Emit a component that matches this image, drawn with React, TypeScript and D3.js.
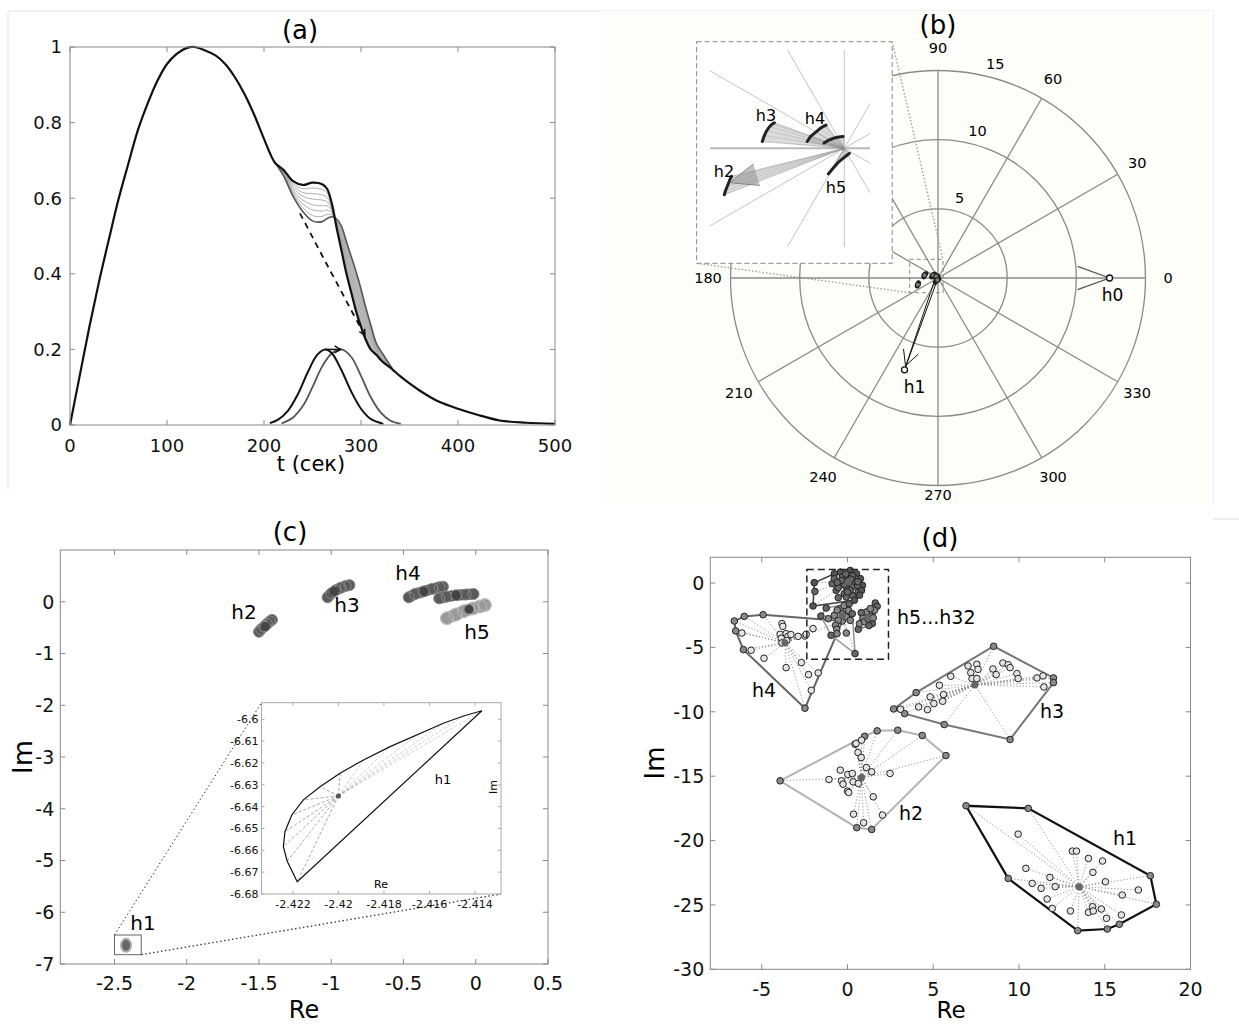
import React from 'react'
import * as d3 from 'd3'

const FONT = "'DejaVu Sans', Verdana, sans-serif"

// ---------- (a) pulse, its perturbed copies and the moving bump
const pulseT = [0, 10, 20, 30, 40, 50, 60, 70, 80, 90, 100, 110, 120, 128, 140, 150, 160, 170, 180, 190, 200]
const pulseV = [0, 0.13, 0.26, 0.38, 0.49, 0.597, 0.69, 0.78, 0.85, 0.91, 0.955, 0.982, 0.997, 1, 0.99, 0.978, 0.955, 0.92, 0.875, 0.82, 0.757]
const famT = [211, 220, 230, 240, 250, 260, 265, 270, 275, 280, 285, 290, 295, 300, 305, 310, 316, 322, 332]
const famTop = [0.695, 0.675, 0.645, 0.635, 0.641, 0.637, 0.625, 0.585, 0.52, 0.46, 0.4, 0.35, 0.3, 0.26, 0.225, 0.2, 0.185, 0.168, 0.148]
const famMid = [
  [0.695, 0.673, 0.639, 0.625, 0.627, 0.623, 0.614, 0.58, 0.524, 0.469, 0.412, 0.364, 0.315, 0.274, 0.237, 0.209, 0.189, 0.171, 0.148],
  [0.695, 0.671, 0.634, 0.615, 0.612, 0.609, 0.602, 0.575, 0.527, 0.479, 0.424, 0.377, 0.33, 0.289, 0.249, 0.219, 0.194, 0.174, 0.149],
  [0.695, 0.669, 0.628, 0.605, 0.598, 0.595, 0.591, 0.57, 0.531, 0.488, 0.436, 0.391, 0.345, 0.303, 0.261, 0.228, 0.198, 0.177, 0.149],
  [0.695, 0.666, 0.622, 0.595, 0.583, 0.58, 0.58, 0.566, 0.534, 0.497, 0.449, 0.404, 0.36, 0.317, 0.274, 0.237, 0.202, 0.181, 0.149],
  [0.695, 0.664, 0.616, 0.585, 0.569, 0.566, 0.569, 0.561, 0.538, 0.506, 0.461, 0.418, 0.375, 0.331, 0.286, 0.246, 0.206, 0.184, 0.149],
  [0.695, 0.662, 0.611, 0.575, 0.554, 0.552, 0.557, 0.556, 0.541, 0.516, 0.473, 0.431, 0.39, 0.346, 0.298, 0.256, 0.211, 0.187, 0.15],
]
const famBottom = [0.695, 0.66, 0.605, 0.565, 0.54, 0.538, 0.546, 0.551, 0.545, 0.525, 0.485, 0.445, 0.405, 0.36, 0.31, 0.265, 0.215, 0.19, 0.15]
const tailT = [340, 350, 360, 370, 380, 400, 420, 443, 470, 500]
const tailV = [0.13, 0.11, 0.092, 0.076, 0.062, 0.043, 0.027, 0.012, 0.006, 0.003]
const dashT = [237, 240, 250, 260, 270, 280, 290, 300, 304]
const dashV = [0.56, 0.546, 0.497, 0.448, 0.4, 0.352, 0.303, 0.256, 0.236]
const bumpT1 = [206, 215, 225, 235, 245, 255, 263, 270, 280, 290, 300, 310, 323]
const bumpV1 = [0.005, 0.015, 0.039, 0.082, 0.139, 0.186, 0.2, 0.19, 0.144, 0.088, 0.043, 0.016, 0.003]
const bumpT2 = [218, 230, 240, 250, 260, 270, 280, 290, 300, 310, 320, 330, 341]
const bumpV2 = [0.004, 0.02, 0.05, 0.1, 0.155, 0.19, 0.2, 0.18, 0.13, 0.074, 0.034, 0.012, 0.003]
const bumpShift = [263, 279]

// ---------- (b)/(c) eigenvalue trails (Re, Im)
const trailH2 = [[-1.5, -0.58], [-1.485, -0.53], [-1.465, -0.48], [-1.445, -0.43], [-1.425, -0.38], [-1.41, -0.35]]
const trailH3 = [[-1.025, 0.085], [-1.0, 0.16], [-0.97, 0.22], [-0.935, 0.27], [-0.9, 0.305], [-0.874, 0.32]]
const trailH4a = [[-0.464, 0.085], [-0.42, 0.15], [-0.36, 0.2], [-0.3, 0.25], [-0.25, 0.28], [-0.227, 0.29]]
const trailH4b = [[-0.253, 0.065], [-0.2, 0.1], [-0.135, 0.125], [-0.07, 0.14], [-0.015, 0.148]]
const trailH5 = [[-0.2, -0.32], [-0.14, -0.25], [-0.08, -0.18], [-0.02, -0.13], [0.03, -0.09], [0.064, -0.064]]
const trailCenters = [[-1.455, -0.48], [-0.98, 0.2], [-0.358, 0.2], [-0.135, 0.125], [-0.047, -0.147]]
const h0 = [12.4, 0]
const h1 = [-2.42, -6.64]

const ringRadii = [5, 10, 15]
const spokeAngles = [0, 30, 60, 90, 120, 150, 180, 210, 240, 270, 300, 330]
const angleLabels = [0, 30, 60, 90, 180, 210, 240, 270, 300, 330]

// ---------- (c) zoom of h1
const h1Zoom = [[-2.4137, -6.5961], [-2.41451, -6.5985], [-2.41539, -6.6018], [-2.41656, -6.6072], [-2.41773, -6.6125],
  [-2.4189, -6.6186], [-2.41993, -6.6247], [-2.42081, -6.6309], [-2.42154, -6.6369], [-2.42205, -6.6438],
  [-2.42235, -6.6515], [-2.42242, -6.6583], [-2.42225, -6.665], [-2.42181, -6.6744]]
const h1ZoomCenter = [-2.42, -6.6351]

// ---------- (d) spectra clouds
const dH1 = [[6.91, -17.3], [10.54, -17.5], [17.66, -22.73], [18.01, -24.95], [15.85, -26.5], [15.15, -26.87], [13.42, -27.0], [11.94, -25.27], [9.37, -22.94],
  [9.95, -19.5], [13.11, -20.82], [13.35, -20.82], [14.05, -21.39], [14.87, -21.59], [10.4, -22.16], [14.31, -22.47], [11.8, -22.86], [10.77, -23.33],
  [12.11, -23.58], [11.29, -23.71], [15.04, -23.2], [16.96, -23.84], [16.02, -24.23], [11.64, -24.54], [14.29, -25.14], [14.8, -25.32], [13.0, -25.47],
  [14.05, -25.58], [14.33, -25.47], [15.97, -25.78], [15.1, -26.04]]
const dH2 = [[-3.93, -15.36], [0.44, -12.52], [1.73, -11.48], [2.93, -11.43], [4.36, -11.84], [5.74, -13.4], [2.04, -18.02], [1.41, -19.14], [0.54, -19.0],
  [0.5, -12.46], [1.0, -11.9], [0.82, -12.2], [0.61, -13.16], [0.8, -13.55], [1.1, -14.33], [1.41, -14.66], [2.48, -14.79], [-0.42, -14.53],
  [-1.08, -15.26], [-0.35, -15.36], [-0.26, -15.62], [0.02, -14.87], [0.28, -14.79], [0.33, -15.44], [0.63, -15.57], [0.0, -16.16], [0.07, -16.27],
  [1.5, -16.6], [0.35, -17.95], [0.94, -18.62]]
const dH3 = [[2.69, -9.78], [7.03, -6.44], [8.52, -4.91], [12.01, -7.37], [12.01, -7.73], [9.48, -12.15], [5.64, -10.99], [3.33, -10.14],
  [3.09, -9.8], [4.0, -8.51], [4.15, -9.62], [4.66, -9.83], [4.82, -8.84], [5.04, -9.36], [5.36, -7.94], [5.6, -8.66], [5.55, -9.18], [6.02, -7.24],
  [7.19, -6.96], [7.54, -6.31], [7.61, -6.7], [7.26, -7.42], [7.54, -7.42], [8.48, -6.67], [8.67, -7.11], [9.06, -6.21], [9.37, -6.34],
  [9.48, -6.57], [9.88, -7.03], [9.95, -7.42], [11.05, -7.37], [11.4, -7.21], [11.45, -8.07]]
const dH4 = [[-6.6, -2.95], [-6.02, -2.59], [-4.92, -2.46], [-0.3, -2.95], [-2.11, -8.33], [-2.48, -9.72], [-6.07, -5.17], [-6.52, -3.72],
  [-6.16, -3.88], [-5.62, -5.22], [-4.87, -5.84], [-3.82, -3.15], [-3.77, -3.36], [-3.93, -3.98], [-3.86, -4.29], [-3.58, -3.93], [-3.47, -4.14],
  [-3.3, -4.0], [-3.82, -4.65], [-3.54, -4.47], [-2.88, -4.14], [-2.48, -4.11], [-2.41, -3.98], [-2.69, -6.18], [-2.27, -7.11], [-1.71, -6.98],
  [-3.58, -6.57], [-2.01, -3.54]]
const dH5a = [[-1.94, 0.03], [-1.9, -0.65], [-2.01, -1.78], [-0.77, 0.72], [-0.42, 0.85], [0.16, 0.98], [0.52, 0.72], [0.75, 0.34], [0.87, -0.18],
  [0.63, -0.7], [0.28, -0.96], [-0.19, -0.83], [-0.66, -0.57], [-0.89, -0.05], [-0.77, 0.34], [-0.3, 0.47], [0.05, 0.21], [0.4, 0.08],
  [-0.07, -0.31], [-0.42, -0.05], [0.28, -0.31], [0.59, -0.18], [-0.54, -0.36], [0.12, 0.6], [-0.19, -0.13], [0.16, -0.57], [0.45, 0.34],
  [0.82, -0.57], [-0.07, -1.09], [-0.54, -1.14], [0.4, -1.34], [0.3, 0.55], [-0.1, 0.7], [0.6, 0.1], [-0.35, 0.2], [0.0, -0.7], [0.7, -0.95],
  [-0.6, 0.05], [0.2, 0.3]]
const dH5b = [[-1.24, -1.94], [-1.55, -2.56], [-1.12, -2.77], [-0.42, -1.99], [-0.3, -2.38], [0.05, -2.12], [0.28, -2.38], [-0.77, -2.51],
  [-0.07, -2.64], [-0.54, -2.9], [0.16, -2.9], [-0.2, -1.75], [0.1, -1.6], [-0.6, -2.1], [-0.7, -3.28], [-0.63, -3.59], [-0.96, -4.06],
  [-0.61, -3.93], [-0.07, -3.88], [0.44, -5.48]]
const dH5c = [[1.62, -1.55], [1.73, -1.81], [1.57, -2.12], [1.45, -3.15], [1.38, -2.59], [0.91, -2.69], [1.1, -2.25], [1.33, -1.99],
  [0.63, -3.59], [0.7, -3.15], [1.0, -3.0], [1.2, -2.8], [0.8, -2.3], [1.5, -2.7], [1.25, -3.3]]
const dCenters = { h1: [13.51, -23.58], h2: [0.82, -15.1], h3: [7.42, -7.91], h4: [-3.65, -4.63], h5a: [0.05, 0.1], h5b: [-0.3, -2.5], h5c: [1.2, -2.7] }
const dBox = [[-2.37, 1.06], [2.39, -5.92]]

const num = (v: number) => String(+v.toFixed(4))
const zip = (t: number[], v: number[]) => t.map((x, i) => [x, v[i]] as [number, number])

function Frame({ x, y, xt, yt, fs, stroke = '#888', tick = 5, gap = 7, xOff = 26, fmt = num }: any) {
  const [l, r] = x.range()
  const [b, t] = y.range()
  return (
    <g fontSize={fs} fill="#111">
      <rect x={l} y={t} width={r - l} height={b - t} fill="none" stroke={stroke} />
      {xt.map((v: number) => (
        <g key={'x' + v}>
          <line x1={x(v)} x2={x(v)} y1={b} y2={b - tick} stroke={stroke} />
          <line x1={x(v)} x2={x(v)} y1={t} y2={t + tick} stroke={stroke} />
          <text x={x(v)} y={b + xOff} textAnchor="middle">{fmt(v)}</text>
        </g>
      ))}
      {yt.map((v: number) => (
        <g key={'y' + v}>
          <line x1={l} x2={l + tick} y1={y(v)} y2={y(v)} stroke={stroke} />
          <line x1={r} x2={r - tick} y1={y(v)} y2={y(v)} stroke={stroke} />
          <text x={l - gap} y={y(v)} dy="0.36em" textAnchor="end">{fmt(v)}</text>
        </g>
      ))}
    </g>
  )
}

function head(x1: number, y1: number, x2: number, y2: number, len: number, deg: number) {
  const a = Math.atan2(y2 - y1, x2 - x1)
  const h = (deg * Math.PI) / 180
  const p1 = [x2 - len * Math.cos(a - h), y2 - len * Math.sin(a - h)]
  const p2 = [x2 - len * Math.cos(a + h), y2 - len * Math.sin(a + h)]
  return `M${p1[0]},${p1[1]}L${x2},${y2}L${p2[0]},${p2[1]}`
}

function PanelA() {
  const x = d3.scaleLinear().domain([0, 500]).range([70, 555])
  const y = d3.scaleLinear().domain([0, 1]).range([425, 47])
  const line = d3.line<[number, number]>().x(d => x(d[0])).y(d => y(d[1])).curve(d3.curveCatmullRom)
  const main = [...zip(pulseT, pulseV), ...zip(famT, famTop), ...zip(tailT, tailV)]
  const bandIdx = famT.map((_, i) => i).filter(i => famT[i] >= 270)
  const band = d3.area<number>().x(i => x(famT[i])).y0(i => y(famTop[i])).y1(i => y(famBottom[i])).curve(d3.curveCatmullRom)
  const dEnd = [x(dashT[dashT.length - 1]), y(dashV[dashV.length - 1])]
  const dPrev = [x(dashT[dashT.length - 2]), y(dashV[dashV.length - 2])]
  return (
    <g>
      <text x={300} y={39} textAnchor="middle" fontSize={26}>(a)</text>
      <path d={band(bandIdx) || ''} fill="#cfcfcf" />
      {famMid.map((m, k) => (
        <path key={k} d={line(zip(famT, m)) || ''} fill="none" stroke="#9a9a9a" strokeWidth={0.8} />
      ))}
      <path d={line(zip(famT, famBottom)) || ''} fill="none" stroke="#555" strokeWidth={1.6} />
      <path d={line(zip(dashT, dashV)) || ''} fill="none" stroke="#111" strokeWidth={1.8} strokeDasharray="6,5" />
      <path d={head(dPrev[0], dPrev[1], dEnd[0], dEnd[1], 7, 25)} fill="none" stroke="#111" strokeWidth={1.5} />
      <path d={line(main) || ''} fill="none" stroke="#111" strokeWidth={2.2} />
      <path d={line(zip(bumpT2, bumpV2)) || ''} fill="none" stroke="#555" strokeWidth={1.8} />
      <path d={line(zip(bumpT1, bumpV1)) || ''} fill="none" stroke="#111" strokeWidth={2} />
      <line x1={x(bumpShift[0])} x2={x(bumpShift[1])} y1={y(0.2)} y2={y(0.2)} stroke="#111" strokeWidth={1.5} />
      <path d={head(x(bumpShift[0]), y(0.2), x(bumpShift[1]), y(0.2), 7, 30)} fill="none" stroke="#111" strokeWidth={1.5} />
      <Frame x={x} y={y} xt={[0, 100, 200, 300, 400, 500]} yt={[0, 0.2, 0.4, 0.6, 0.8, 1]} fs={18} gap={8} xOff={27} />
      <text x={311} y={471} textAnchor="middle" fontSize={21}>t (сек)</text>
    </g>
  )
}

function PanelB() {
  const cx = 938, cy = 278
  const r = d3.scaleLinear().domain([0, 15]).range([0, 207.5])
  const rad = (d: number) => (d * Math.PI) / 180
  const pol = (rr: number, a: number) => [cx + rr * Math.cos(rad(a)), cy - rr * Math.sin(rad(a))]
  const cp = (c: number[]) => [cx + r(c[0]), cy - r(c[1])]
  const icx = 844.3, icy = 148.3
  const s = d3.scaleLinear().domain([0, 1]).range([0, 80])
  const ip = (c: number[]) => [icx + s(c[0]), icy - s(c[1])]
  const trails = [trailH2, trailH3, trailH4a, trailH4b, trailH5]
  const pl = d3.line()
  const p1 = cp(h1), p0 = cp(h0)
  return (
    <g>
      <rect x={600} y={11} width={613} height={494} fill="#fdfdf9" />
      <text x={938} y={34} textAnchor="middle" fontSize={26}>(b)</text>
      {ringRadii.map(v => (
        <circle key={v} cx={cx} cy={cy} r={r(v)} fill="none" stroke="#8a8a8a" strokeWidth={1.3} />
      ))}
      {spokeAngles.map(a => {
        const e = pol(r(15), a)
        return <line key={a} x1={cx} y1={cy} x2={e[0]} y2={e[1]} stroke="#8a8a8a" strokeWidth={1.3} />
      })}
      {angleLabels.map(a => {
        const p = pol(a === 270 ? 217 : 230, a)
        return <text key={a} x={p[0]} y={p[1]} dy="0.36em" textAnchor="middle" fontSize={14.5}>{a}</text>
      })}
      {ringRadii.map(v => {
        const p = pol(r(v) + 14, 75)
        return <text key={v} x={p[0]} y={p[1]} dy="0.36em" textAnchor="middle" fontSize={14.5}>{v}</text>
      })}
      {/* h0 and h1 */}
      <path d={head(cx, cy, p0[0], p0[1], 34, 20)} fill="none" stroke="#555" strokeWidth={1.2} />
      <circle cx={p0[0]} cy={p0[1]} r={3} fill="#fff" stroke="#111" strokeWidth={1.3} />
      <text x={p0[0] + 3} y={p0[1] + 17} dy="0.36em" textAnchor="middle" fontSize={17}>h0</text>
      <line x1={cx - 4} y1={cy + 4} x2={p1[0]} y2={p1[1]} stroke="#111" strokeWidth={1} />
      <line x1={cx} y1={cy} x2={p1[0]} y2={p1[1]} stroke="#111" strokeWidth={1} />
      <path d={head(cx, cy, p1[0] + 1, p1[1] - 4, 17, 27)} fill="none" stroke="#111" strokeWidth={1} />
      <circle cx={p1[0]} cy={p1[1]} r={3} fill="#fff" stroke="#111" strokeWidth={1.3} />
      <text x={p1[0] + 10} y={p1[1] + 17} dy="0.36em" textAnchor="middle" fontSize={17}>h1</text>
      {trails.map((tr, i) => (
        <path key={i} d={pl(tr.map(cp) as any) || ''} fill="none" stroke="#222" strokeWidth={5} strokeLinecap="round" />
      ))}
      {trailCenters.map((c, i) => {
        const p = cp(c)
        return <circle key={i} cx={p[0]} cy={p[1]} r={2.5} fill="#777" stroke="#111" />
      })}
      {/* zoom box and inset */}
      <rect x={909.7} y={259.3} width={33.4} height={33.4} fill="none" stroke="#888" strokeDasharray="4,3" />
      <line x1={892.2} y1={41.7} x2={943} y2={259.3} stroke="#999" strokeWidth={1.3} strokeDasharray="1.5,2" />
      <line x1={696.6} y1={263.3} x2={909.7} y2={292.7} stroke="#999" strokeWidth={1.3} strokeDasharray="1.5,2" />
      <rect x={696.6} y={41.7} width={195.6} height={221.6} fill="#fff" stroke="#888" strokeDasharray="5,3" />
      <clipPath id="insetB">
        <rect x={710} y={50} width={160} height={197} />
      </clipPath>
      <g clipPath="url(#insetB)">
        {spokeAngles.map(a => {
          const e = [icx + 400 * Math.cos(rad(a)), icy - 400 * Math.sin(rad(a))]
          return <line key={a} x1={icx} y1={icy} x2={e[0]} y2={e[1]} stroke={a % 180 === 0 ? '#b8b8b8' : '#c4c4c4'} strokeWidth={a % 180 === 0 ? 2 : 1} />
        })}
      </g>
      {trails.map((tr, i) => {
        const pts = tr.map(ip)
        return (
          <g key={i}>
            <path d={`M${icx},${icy}` + pts.map(p => `L${p[0]},${p[1]}`).join('') + 'Z'} fill="#9a9a9a" fillOpacity={0.35} stroke="#888" strokeOpacity={0.3} strokeWidth={0.8} />
            {pts.map((p, j) => (
              <line key={j} x1={icx} y1={icy} x2={p[0]} y2={p[1]} stroke="#888" strokeOpacity={0.35} strokeWidth={0.8} />
            ))}
            <path d={pl(pts as any) || ''} fill="none" stroke="#222" strokeWidth={3} strokeLinecap="round" />
          </g>
        )
      })}
      <path d={head(icx, icy, ip(trailCenters[0])[0] + 2, ip(trailCenters[0])[1] - 4, 30, 22)} fill="#999" fillOpacity={0.6} stroke="#888" strokeWidth={1} />
      <g fontSize={16} textAnchor="middle">
        <text x={766} y={115} dy="0.36em">h3</text>
        <text x={815} y={118} dy="0.36em">h4</text>
        <text x={724} y={171} dy="0.36em">h2</text>
        <text x={836} y={187} dy="0.36em">h5</text>
      </g>
    </g>
  )
}

function Trail({ pts, c, x, y, light }: any) {
  const pl = d3.line<number[]>().x(d => x(d[0])).y(d => y(d[1]))
  return (
    <g>
      <path d={pl(pts) || ''} fill="none" stroke={light ? '#9a9a9a' : '#5a5a5a'} strokeWidth={light ? 12 : 11} strokeLinecap="round" />
      {pts.map((p: number[], i: number) => (
        <circle key={i} cx={x(p[0])} cy={y(p[1])} r={light ? 6.5 : 5.5} fill="none" stroke={light ? '#bbb' : '#8a8a8a'} strokeWidth={1} />
      ))}
      <circle cx={x(c[0])} cy={y(c[1])} r={4.5} fill="#444" />
    </g>
  )
}

function PanelC() {
  const x = d3.scaleLinear().domain([-2.875, 0.5]).range([60.3, 548])
  const y = d3.scaleLinear().domain([-7, 1]).range([964, 550])
  const xi = d3.scaleLinear().domain([-2.42338, -2.41286]).range([261.5, 501])
  const yi = d3.scaleLinear().domain([-6.68, -6.5924]).range([894, 702.7])
  const zoomPts = h1Zoom.map(p => [xi(p[0]), yi(p[1])] as [number, number])
  const hull = d3.polygonHull(zoomPts) || []
  const cc = [xi(h1ZoomCenter[0]), yi(h1ZoomCenter[1])]
  const bx0 = x(-2.5), bx1 = x(-2.315), by0 = y(-6.44), by1 = y(-6.82)
  const trails = [trailH2, trailH3, trailH4a, trailH4b]
  return (
    <g>
      <text x={290} y={541} textAnchor="middle" fontSize={26}>(c)</text>
      <Frame x={x} y={y} xt={[-2.5, -2, -1.5, -1, -0.5, 0, 0.5]} yt={[-7, -6, -5, -4, -3, -2, -1, 0]} fs={19} gap={6} xOff={26} />
      {trails.map((tr, i) => <Trail key={i} pts={tr} c={trailCenters[i]} x={x} y={y} />)}
      <Trail pts={trailH5} c={trailCenters[4]} x={x} y={y} light />
      <ellipse cx={x(h1[0])} cy={y(h1[1])} rx={5} ry={6.5} fill="#666" stroke="#aaa" strokeWidth={2} />
      <rect x={bx0} y={by0} width={bx1 - bx0} height={by1 - by0} fill="none" stroke="#666" />
      <line x1={bx0} y1={by0} x2={261.5} y2={702.7} stroke="#333" strokeDasharray="1.5,2.5" />
      <line x1={bx1} y1={by1} x2={501} y2={894} stroke="#333" strokeWidth={1.3} strokeDasharray="1.5,2.5" />
      <g fontSize={20} textAnchor="middle">
        <text x={244} y={612} dy="0.36em">h2</text>
        <text x={347} y={605} dy="0.36em">h3</text>
        <text x={408} y={573} dy="0.36em">h4</text>
        <text x={477} y={632} dy="0.36em">h5</text>
        <text x={143} y={923} dy="0.36em">h1</text>
      </g>
      {/* inset */}
      <rect x={261.5} y={702.7} width={239.5} height={191.3} fill="#fff" />
      {zoomPts.map((p, i) => (
        <line key={i} x1={cc[0]} y1={cc[1]} x2={p[0]} y2={p[1]} stroke="#777" strokeWidth={0.7} strokeDasharray="3,2" opacity={i < 6 ? 0.5 : 0.9} />
      ))}
      <path d={'M' + hull.map(p => p.join(',')).join('L') + 'Z'} fill="none" stroke="#111" strokeWidth={1.2} />
      <circle cx={cc[0]} cy={cc[1]} r={2.5} fill="#555" />
      <Frame x={xi} y={yi} xt={[-2.422, -2.42, -2.418, -2.416, -2.414]} yt={[-6.68, -6.67, -6.66, -6.65, -6.64, -6.63, -6.62, -6.61, -6.6]} fs={11} stroke="#aaa" tick={3} gap={3} xOff={14} />
      <text x={443} y={779} dy="0.36em" textAnchor="middle" fontSize={13}>h1</text>
      <text x={381} y={884} dy="0.36em" textAnchor="middle" fontSize={11}>Re</text>
      <text transform="translate(493,787) rotate(-90)" dy="0.36em" textAnchor="middle" fontSize={11}>Im</text>
      <text x={304} y={1018} textAnchor="middle" fontSize={24}>Re</text>
      <text transform="translate(22,757) rotate(-90)" dy="0.36em" textAnchor="middle" fontSize={27}>Im</text>
    </g>
  )
}

function Cloud({ pts, c, x, y, color, width = 2, fillIn = '#e4e4e4', fillHull = '#8a8a8a' }: any) {
  const px = pts.map((p: number[]) => [x(p[0]), y(p[1])] as [number, number])
  const hull = d3.polygonHull(px) || []
  const hullSet = new Set(hull.map(p => p.join(',')))
  const cp = [x(c[0]), y(c[1])]
  return (
    <g>
      {px.map((p: number[], i: number) => (
        <line key={i} x1={cp[0]} y1={cp[1]} x2={p[0]} y2={p[1]} stroke="#8a8a8a" strokeWidth={0.9} strokeDasharray="1.2,2" />
      ))}
      <path d={'M' + hull.map(p => p.join(',')).join('L') + 'Z'} fill="none" stroke={color} strokeWidth={width} />
      {px.map((p: number[], i: number) => (
        <circle key={'c' + i} cx={p[0]} cy={p[1]} r={3.3} fill={hullSet.has(p.join(',')) ? fillHull : fillIn} stroke="#222" strokeWidth={1} />
      ))}
      <circle cx={cp[0]} cy={cp[1]} r={3.5} fill="#666" />
    </g>
  )
}

function PanelD() {
  const x = d3.scaleLinear().domain([-8, 20]).range([710.3, 1190.5])
  const y = d3.scaleLinear().domain([-30, 2]).range([969.3, 557.3])
  return (
    <g>
      <line x1={1213} x2={1239} y1={519} y2={519} stroke="#ddd" />
      <text x={940} y={547} textAnchor="middle" fontSize={26}>(d)</text>
      <Frame x={x} y={y} xt={[-5, 0, 5, 10, 15, 20]} yt={[-30, -25, -20, -15, -10, -5, 0]} fs={19} gap={6} xOff={27} />
      <Cloud pts={dH1} c={dCenters.h1} x={x} y={y} color="#111" width={2.2} />
      <Cloud pts={dH2} c={dCenters.h2} x={x} y={y} color="#b4b4b4" />
      <Cloud pts={dH3} c={dCenters.h3} x={x} y={y} color="#777" />
      <Cloud pts={dH4} c={dCenters.h4} x={x} y={y} color="#666" />
      <Cloud pts={dH5b} c={dCenters.h5b} x={x} y={y} color="#999" width={1.6} fillIn="#888" fillHull="#666" />
      <Cloud pts={dH5c} c={dCenters.h5c} x={x} y={y} color="#777" width={1.6} fillIn="#888" fillHull="#666" />
      <Cloud pts={dH5a} c={dCenters.h5a} x={x} y={y} color="#444" width={1.6} fillIn="#666" fillHull="#555" />
      <rect x={x(dBox[0][0])} y={y(dBox[0][1])} width={x(dBox[1][0]) - x(dBox[0][0])} height={y(dBox[1][1]) - y(dBox[0][1])}
        fill="none" stroke="#222" strokeWidth={1.5} strokeDasharray="7,4" />
      <g fontSize={19}>
        <text x={764} y={690} dy="0.36em" textAnchor="middle">h4</text>
        <text x={1052} y={711} dy="0.36em" textAnchor="middle">h3</text>
        <text x={911} y={813} dy="0.36em" textAnchor="middle">h2</text>
        <text x={1125} y={838} dy="0.36em" textAnchor="middle">h1</text>
        <text x={897} y={617} dy="0.36em">h5...h32</text>
      </g>
      <text x={951} y={1018} textAnchor="middle" fontSize={23}>Re</text>
      <text transform="translate(655,763) rotate(-90)" dy="0.36em" textAnchor="middle" fontSize={26}>Im</text>
    </g>
  )
}

export default function App() {
  return (
    <svg width={1239} height={1024} style={{ position: 'absolute', left: 0, top: 0 }} fontFamily={FONT}>
      <rect width={1239} height={1024} fill="#fff" />
      <path d="M8,490V11H1213V505" fill="none" stroke="#e2e2e2" />
      <PanelB />
      <PanelA />
      <PanelC />
      <PanelD />
    </svg>
  )
}
